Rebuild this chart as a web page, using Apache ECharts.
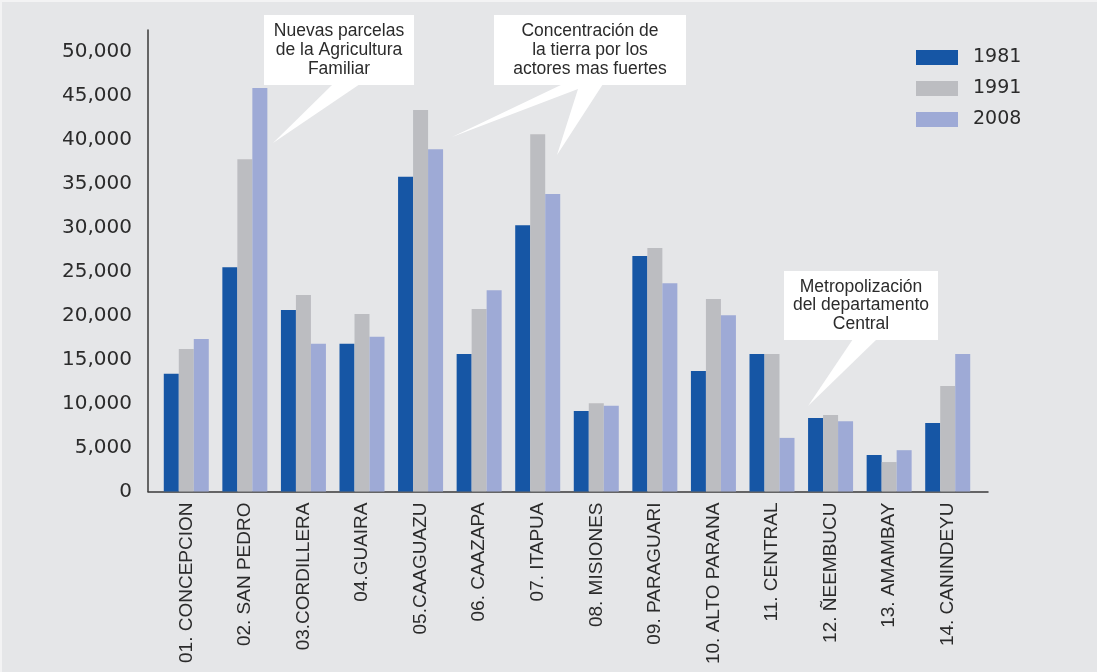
<!DOCTYPE html>
<html>
<head>
<meta charset="utf-8">
<script src="https://cdn.jsdelivr.net/npm/echarts@6/dist/echarts.min.js"></script>
<style>
  html, body { margin: 0; padding: 0; background: #f3f3f4; }
  #chart { position: absolute; left: 2px; top: 2px; width: 1095px; height: 670px; }
</style>
</head>
<body>
<div id="chart"></div>
<script>
// Departments of Paraguay
const categories = [
  '01. CONCEPCION', '02. SAN PEDRO', '03.CORDILLERA', '04.GUAIRA', '05.CAAGUAZU',
  '06. CAAZAPA', '07. ITAPUA', '08. MISIONES', '09. PARAGUARI', '10. ALTO PARANA',
  '11. CENTRAL', '12. ÑEEMBUCU', '13. AMAMBAY', '14. CANINDEYU'
];
const seriesNames = ['1981', '1991', '2008'];
const values1981 = [13400, 25500, 20650, 16800, 35800, 15650, 30300, 9150, 26800, 13700, 15650, 8350, 4150, 7800];
const values1991 = [16200, 37800, 22350, 20200, 43400, 20750, 40650, 10050, 27700, 21900, 15650, 8700, 3350, 12000];
const values2008 = [17350, 45900, 16800, 17600, 38950, 22900, 33850, 9750, 23700, 20050, 6100, 8000, 4700, 15650];
const yTicks = { min: 0, max: 50000, interval: 5000 };
// the frame's vertical axis runs a little above the top tick
const frameMax = 52500;

const colors = ['#1656a5', '#bcbdc1', '#9eaad6'];
const numFont = 'DejaVu Sans';
const labelFont = '"Liberation Sans", Arial, sans-serif';
const noteFont = '"Liberation Sans", Arial, sans-serif';

const chart = echarts.init(document.getElementById('chart'), null, { renderer: 'canvas' });

// Callout: white box with centred text plus a pointer polygon
function callout(box, lines, pointer) {
  const els = [];
  els.push({ type: 'polygon', shape: { points: pointer }, style: { fill: '#ffffff' }, z: 10 });
  els.push({ type: 'rect', shape: { x: box[0], y: box[1], width: box[2], height: box[3] }, style: { fill: '#ffffff' }, z: 10 });
  els.push({
    type: 'text', z: 11,
    x: box[0] + box[2] / 2, y: box[1] + box[3] / 2,
    style: {
      text: lines.join('\n'), fill: '#2b2b2b', font: '17.5px ' + noteFont,
      align: 'center', verticalAlign: 'middle', lineHeight: 18.7
    }
  });
  return els;
}

const OFF = -2; // container offset within the page
const P = (x, y) => [x + OFF, y + OFF];

const graphics = [].concat(
  callout([264 + OFF, 15 + OFF, 150, 70], ['Nuevas parcelas', 'de la Agricultura', 'Familiar'],
    [P(333, 84), P(273, 143), P(360, 84)]),
  callout([494 + OFF, 15 + OFF, 192, 70], ['Concentración de', 'la tierra por los', 'actores mas fuertes'],
    [P(563, 84), P(452, 137), P(578, 89), P(557, 155), P(603, 84)]),
  callout([784 + OFF, 271 + OFF, 154, 69], ['Metropolización', 'del departamento', 'Central'],
    [P(853, 339), P(808, 406), P(877, 339)])
);

const plotBottom = 491.5;
const gridBottom = 672 - plotBottom;
const barTop = 52 + OFF;
// frame top: where frameMax lands on the same scale as the bars
const frameTop = plotBottom - (plotBottom - 52) * frameMax / yTicks.max + OFF;

chart.setOption({
  backgroundColor: '#e5e6e8',
  animation: false,
  color: colors,
  legend: {
    orient: 'vertical',
    left: 916 + OFF, top: 48 + OFF,
    padding: 0,
    itemWidth: 42, itemHeight: 15, itemGap: 12,
    icon: 'rect',
    textStyle: { fontFamily: numFont, fontSize: 19, color: '#2b2b2b', padding: [0, 0, 0, 10] },
    data: seriesNames
  },
  grid: [
    // bars
    { left: 157 + OFF, right: 1097 - 977, top: barTop, bottom: gridBottom, outerBoundsMode: 'none', containLabel: false },
    // frame axes
    { left: 148 + OFF, right: 1097 - 988, top: frameTop, bottom: gridBottom, outerBoundsMode: 'none', containLabel: false }
  ],
  xAxis: [
    {
      type: 'category', gridIndex: 0, data: categories,
      axisLine: { show: false }, axisTick: { show: false },
      axisLabel: {
        rotate: 90, margin: 11, interval: 0,
        fontFamily: labelFont, fontSize: 19, color: '#2b2b2b'
      }
    },
    {
      type: 'value', gridIndex: 1, min: 0, max: 1,
      axisLine: { show: true, lineStyle: { color: '#3a3a3a', width: 1.5 } },
      axisTick: { show: false }, axisLabel: { show: false }, splitLine: { show: false }
    }
  ],
  yAxis: [
    {
      type: 'value', gridIndex: 0, min: yTicks.min, max: yTicks.max, interval: yTicks.interval,
      show: false, splitLine: { show: false }
    },
    {
      type: 'value', gridIndex: 1, min: yTicks.min, max: frameMax, interval: yTicks.interval,
      axisLine: { show: true, lineStyle: { color: '#3a3a3a', width: 1.5 } },
      axisTick: { show: false }, splitLine: { show: false },
      axisLabel: {
        margin: 16, fontFamily: numFont, fontSize: 20, color: '#2b2b2b',
        showMaxLabel: false,
        formatter: v => (v % yTicks.interval === 0 ? v.toLocaleString('en-US') : '')
      }
    }
  ],
  series: [
    { name: seriesNames[0], type: 'bar', xAxisIndex: 0, yAxisIndex: 0, data: values1981, barWidth: 15, barGap: '0%' },
    { name: seriesNames[1], type: 'bar', xAxisIndex: 0, yAxisIndex: 0, data: values1991, barWidth: 15, barGap: '0%' },
    { name: seriesNames[2], type: 'bar', xAxisIndex: 0, yAxisIndex: 0, data: values2008, barWidth: 15, barGap: '0%' }
  ],
  graphic: graphics
});
</script>
</body>
</html>
